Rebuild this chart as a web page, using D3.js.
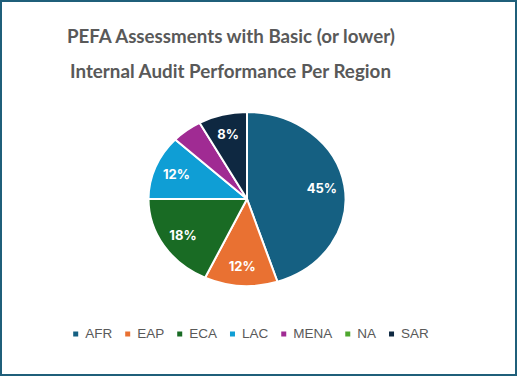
<!doctype html>
<html>
  <head>
    <meta charset="utf-8"/>
    <title>PEFA Internal Audit Performance Per Region</title>
    <style>
      body, html {
        padding: 0;
        margin: 0;
        border: 0;
        background: #fff;
      }
      svg { display: block; }
      .title {
        font-family: "Lato", "Open Sans", sans-serif;
        font-weight: bold;
        font-size: 18px;
        fill: #595959;
      }
      .slice-label {
        font-family: "Inter", "Noto Sans", sans-serif;
        font-weight: bold;
        font-size: 13px;
        fill: #fff;
      }
      .legend-label {
        font-family: "Liberation Sans", Arial, sans-serif;
        font-size: 13.5px;
        fill: #595959;
      }
    </style>
    <script src="https://d3js.org/d3.v7.min.js"></script>
  </head>
  <body>
    <svg id="chart" width="518" height="377"></svg>

    <script>
      // data (share of assessments, %)
      var regions = ["AFR", "EAP", "ECA", "LAC", "MENA", "NA", "SAR"];
      var shares = [45, 12, 18, 12, 5, 0, 8];
      var shownLabels = ["45%", "12%", "18%", "12%", "", "", "8%"];
      var colors = ["#156082", "#e97132", "#196b24", "#0f9ed5", "#a02b93", "#4ea72e", "#0e2841"];
      var titleLines = ["PEFA Assessments with Basic (or lower)", "Internal Audit Performance Per Region"];

      var width = 518,
          height = 377;

      var svg = d3.select("#chart");

      // frame
      svg.append("rect")
        .attr("x", 1).attr("y", 1)
        .attr("width", 515).attr("height", 374)
        .attr("fill", "none")
        .attr("stroke", "#1f5f7a")
        .attr("stroke-width", 2);

      // title
      svg.selectAll(".title")
        .data(titleLines)
        .enter().append("text")
          .attr("class", "title")
          .attr("x", function(d, i) { return i ? 230.5 : 231; })
          .attr("y", function(d, i) { return i ? 78 : 43; })
          .attr("text-anchor", "middle")
          .attr("textLength", function(d, i) { return i ? 321 : 328; })
          .attr("lengthAdjust", "spacingAndGlyphs")
          .text(function(d) { return d; });

      // pie (slightly stretched horizontally, like the reference)
      var cx = 247, cy = 199, rx = 98.5, ry = 87;

      var data = regions.map(function(r, i) {
        return { region: r, value: shares[i], label: shownLabels[i], color: colors[i] };
      });

      var pie = d3.pie()
        .sort(null)
        .value(function(d) { return d.value; });

      var arcs = pie(data);

      var arc = d3.arc()
        .innerRadius(0)
        .outerRadius(ry);

      var g = svg.append("g")
        .attr("transform", "translate(" + cx + "," + cy + ") scale(" + (rx / ry) + ",1)");

      g.selectAll("path")
        .data(arcs.filter(function(d) { return d.data.value > 0; }))
        .enter().append("path")
          .attr("d", arc)
          .attr("fill", function(d) { return d.data.color; })
          .attr("stroke", "#fff")
          .attr("stroke-width", 2)
          .attr("vector-effect", "non-scaling-stroke")
          .attr("stroke-linejoin", "round");

      var k = 0.77;
      svg.selectAll(".slice-label")
        .data(arcs.filter(function(d) { return d.data.label; }))
        .enter().append("text")
          .attr("class", "slice-label")
          .attr("text-anchor", "middle")
          .attr("dy", "0.36em")
          .attr("x", function(d) {
            var a = (d.startAngle + d.endAngle) / 2;
            return cx + Math.sin(a) * rx * k;
          })
          .attr("y", function(d) {
            var a = (d.startAngle + d.endAngle) / 2;
            return cy - Math.cos(a) * ry * k;
          })
          .text(function(d) { return d.data.label; });

      // legend
      var legend = svg.append("g");
      var items = legend.selectAll("g")
        .data(data)
        .enter().append("g");

      items.append("rect")
        .attr("width", 5).attr("height", 5)
        .attr("y", -6.5)
        .attr("fill", function(d) { return d.color; });

      items.append("text")
        .attr("class", "legend-label")
        .attr("x", 12)
        .attr("y", 0)
        .text(function(d) { return d.region; });

      var xpos = 0;
      items.each(function() {
        var w = this.querySelector("text").getComputedTextLength();
        d3.select(this).attr("transform", "translate(" + xpos + ",0)");
        xpos += 12 + w + 13;
      });
      var total = xpos - 13;
      legend.attr("transform", "translate(" + (251 - total / 2) + ",338)");
    </script>
  </body>
</html>
